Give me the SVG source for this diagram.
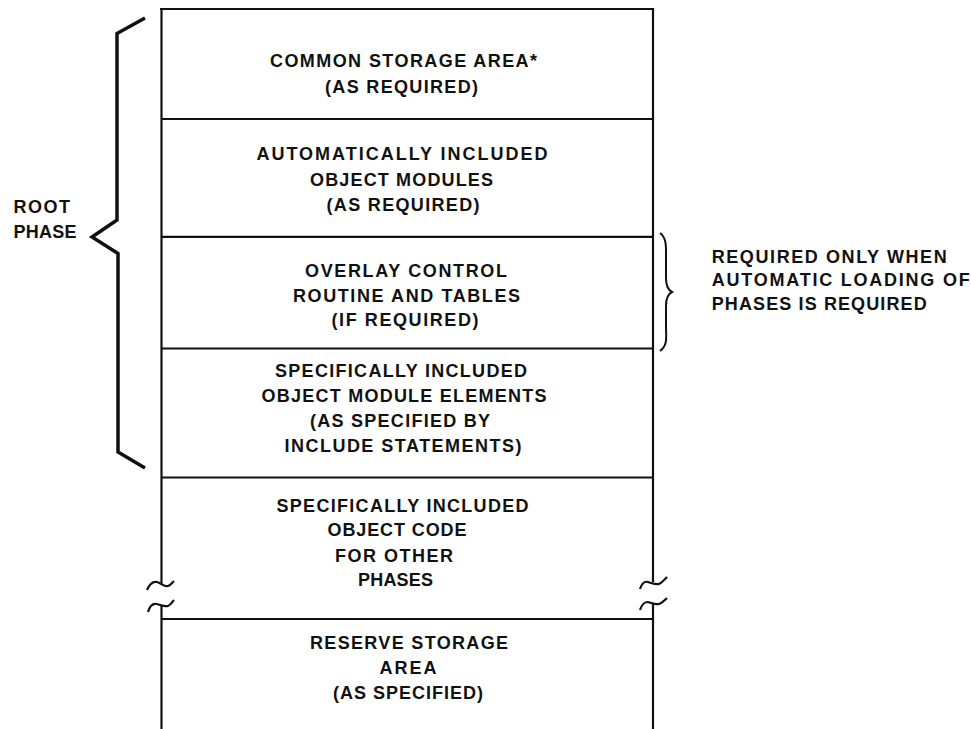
<svg xmlns="http://www.w3.org/2000/svg" width="971" height="729" viewBox="0 0 971 729">
<style>
.t{font-family:"Liberation Sans",Arial,Helvetica,sans-serif;font-size:18px;font-weight:bold;fill:#111;text-anchor:middle}
.l{font-family:"Liberation Sans",Arial,Helvetica,sans-serif;font-size:18px;font-weight:bold;fill:#111}
.ln{stroke:#111;stroke-width:2.2;fill:none}
.br{stroke:#111;fill:none;stroke-linejoin:miter}
</style>
<rect width="971" height="729" fill="#fff"/>
<g id="frame">
<line class="ln" x1="160" y1="9" x2="654" y2="9"/>
<line class="ln" x1="161.5" y1="8" x2="161.5" y2="584"/>
<line class="ln" x1="161.5" y1="605" x2="161.5" y2="729"/>
<line class="ln" x1="653" y1="8" x2="653" y2="582"/>
<line class="ln" x1="653" y1="603" x2="653" y2="729"/>
<path class="ln" stroke-width="2.6" d="M147,590 C150,583 153,581 157,582 C161,583 164,587 168,586 C171,585 172,583 174,581"/>
<path class="ln" stroke-width="2.6" d="M148,612 C150,605 153,603 157,604 C161,605 164,607 168,606 C171,605 172,602 174,600"/>
<path class="ln" stroke-width="2.6" d="M640,589 C642,583 644,581 648,582 C652,583 655,585 659,584 C662,583 664,580 667,577"/>
<path class="ln" stroke-width="2.6" d="M640,610 C642,604 644,602 648,602 C652,603 655,605 659,604 C662,603 664,601 667,598"/>
</g>
<g id="common">
<line class="ln" x1="161" y1="119" x2="653" y2="119"/>
<text class="t" x="403.5" y="66.7" textLength="267" lengthAdjust="spacing">COMMON STORAGE AREA*</text>
<text class="t" x="401.5" y="93" textLength="153" lengthAdjust="spacing">(AS REQUIRED)</text>
</g>
<g id="auto">
<line class="ln" x1="161" y1="236.8" x2="653" y2="236.8"/>
<text class="t" x="402" y="160" textLength="291" lengthAdjust="spacing">AUTOMATICALLY INCLUDED</text>
<text class="t" x="401.5" y="185.7" textLength="183" lengthAdjust="spacing">OBJECT MODULES</text>
<text class="t" x="403" y="211" textLength="153" lengthAdjust="spacing">(AS REQUIRED)</text>
</g>
<g id="overlay">
<line class="ln" x1="161" y1="348.5" x2="653" y2="348.5"/>
<text class="t" x="406" y="276.7" textLength="202" lengthAdjust="spacing">OVERLAY CONTROL</text>
<text class="t" x="406.5" y="301.7" textLength="227" lengthAdjust="spacing">ROUTINE AND TABLES</text>
<text class="t" x="405" y="326" textLength="147" lengthAdjust="spacing">(IF REQUIRED)</text>
</g>
<g id="specific-elements">
<line class="ln" x1="161" y1="477.5" x2="653" y2="477.5"/>
<text class="t" x="401" y="377.3" textLength="252" lengthAdjust="spacing">SPECIFICALLY INCLUDED</text>
<text class="t" x="404" y="401.7" textLength="285" lengthAdjust="spacing">OBJECT MODULE ELEMENTS</text>
<text class="t" x="400" y="426.7" textLength="180" lengthAdjust="spacing">(AS SPECIFIED BY</text>
<text class="t" x="403" y="451.7" textLength="237" lengthAdjust="spacing">INCLUDE STATEMENTS)</text>
</g>
<g id="specific-code">
<line class="ln" x1="161" y1="619" x2="653" y2="619"/>
<text class="t" x="402.5" y="511.7" textLength="252" lengthAdjust="spacing">SPECIFICALLY INCLUDED</text>
<text class="t" x="397" y="536" textLength="139" lengthAdjust="spacing">OBJECT CODE</text>
<text class="t" x="394" y="561.7" textLength="118" lengthAdjust="spacing">FOR OTHER</text>
<text class="t" x="395.5" y="586" textLength="75" lengthAdjust="spacing">PHASES</text>
</g>
<g id="reserve">
<text class="t" x="409" y="649.3" textLength="198" lengthAdjust="spacing">RESERVE STORAGE</text>
<text class="t" x="408" y="674.3" textLength="57" lengthAdjust="spacing">AREA</text>
<text class="t" x="408" y="699" textLength="150" lengthAdjust="spacing">(AS SPECIFIED)</text>
</g>
<g id="root-phase">
<text class="l" x="13.5" y="212.7" textLength="56.5" lengthAdjust="spacing">ROOT</text>
<text class="l" x="13.5" y="238.3" textLength="63" lengthAdjust="spacing">PHASE</text>
</g>
<g id="overlay-note">
<text class="l" x="711.7" y="262.7" textLength="235" lengthAdjust="spacing">REQUIRED ONLY WHEN</text>
<text class="l" x="711.7" y="286" textLength="258" lengthAdjust="spacing">AUTOMATIC LOADING OF</text>
<text class="l" x="711.7" y="310" textLength="215" lengthAdjust="spacing">PHASES IS REQUIRED</text>
</g>
<g id="connectors">
<path class="br" stroke-width="3.5" d="M145,18 L117,33.5 L117,220 L92,237 L118,253.5 L118,452 L145,468"/>
<path class="br" stroke-width="2" d="M660,233 C667,238 666,248 666,258 L666,278 C666,286 668,290 672,292 C668,294 666,298 666,306 L666,326 C666,338 668,345 660,351"/>
</g>
</svg>
